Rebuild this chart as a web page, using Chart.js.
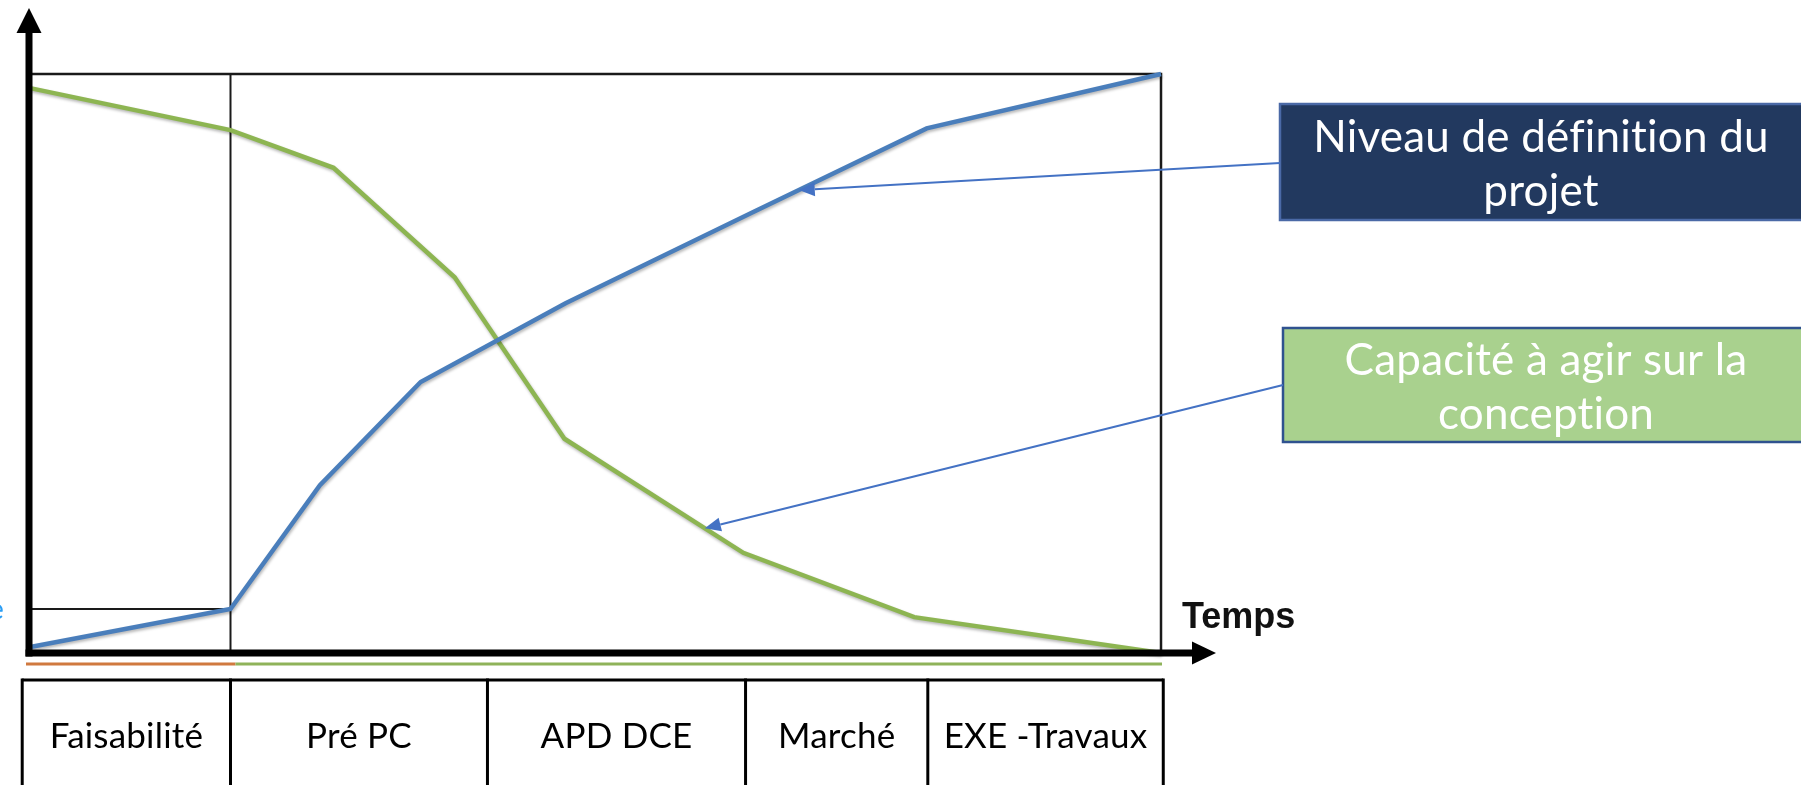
<!DOCTYPE html>
<html><head><meta charset="utf-8">
<script src="https://cdn.jsdelivr.net/npm/chart.js@4/dist/chart.umd.min.js"></script>
<style>html,body{margin:0;padding:0;background:#fff;overflow:hidden}canvas{display:block}</style>
</head><body>
<canvas id="c" width="1801" height="785"></canvas>
<script>
// ---- data (time 0..100 across the frame, level 0..100) ----
const niveauX = [0, 17.8, 25.7, 34.6, 47.4, 63.8, 79.3, 100];
const niveauY = [1, 7.6, 29.0, 46.8, 60.4, 76.0, 90.6, 100];
const capaciteX = [0, 17.8, 26.9, 37.6, 47.3, 63.1, 78.2, 100];
const capaciteY = [97.6, 90.3, 83.8, 64.9, 37.0, 17.3, 6.2, 0];
const phaseLabels = ['Faisabilité', 'Pré PC', 'APD DCE', 'Marché', 'EXE -Travaux'];
const phaseEdges = [-0.6, 17.8, 40.5, 63.3, 79.4, 100.2];
const seriesNames = ['Niveau de définition du projet', 'Capacité à agir sur la conception'];
const calloutLines = [['Niveau de définition du', 'projet'], ['Capacité à agir sur la', 'conception']];
const calloutTargetX = [68.0, 59.7];
const axisTitle = 'Temps';

const BLUE = '#4a7ebb', GREEN = '#8db552';

function interp(xs, ys, x) {
  for (let i = 0; i < xs.length - 1; i++) {
    if (x >= xs[i] && x <= xs[i + 1]) {
      const t = (x - xs[i]) / (xs[i + 1] - xs[i]);
      return ys[i] + t * (ys[i + 1] - ys[i]);
    }
  }
  return ys[ys.length - 1];
}

function arrow(ctx, x1, y1, x2, y2, color, lw, headLen, headW) {
  const a = Math.atan2(y2 - y1, x2 - x1);
  const bx = x2 - headLen * Math.cos(a), by = y2 - headLen * Math.sin(a);
  ctx.strokeStyle = color; ctx.fillStyle = color; ctx.lineWidth = lw;
  ctx.beginPath(); ctx.moveTo(x1, y1); ctx.lineTo(bx, by); ctx.stroke();
  ctx.beginPath();
  ctx.moveTo(x2, y2);
  ctx.lineTo(bx + headW * Math.sin(a), by - headW * Math.cos(a));
  ctx.lineTo(bx - headW * Math.sin(a), by + headW * Math.cos(a));
  ctx.closePath(); ctx.fill();
}

const deco = {
  id: 'deco',
  beforeDraw(chart) {
    const ctx = chart.ctx;
    ctx.save(); ctx.fillStyle = '#fff'; ctx.fillRect(0, 0, chart.width, chart.height); ctx.restore();
  },
  beforeDatasetsDraw(chart) {
    const {ctx, chartArea: ca, scales: {x, y}} = chart;
    ctx.save();
    ctx.strokeStyle = '#1a1a1a'; ctx.lineWidth = 2.5;
    ctx.beginPath();
    ctx.moveTo(ca.left, ca.top); ctx.lineTo(ca.right, ca.top); ctx.lineTo(ca.right, ca.bottom);
    ctx.stroke();
    ctx.lineWidth = 2;
    const px = x.getPixelForValue(phaseEdges[1]);
    ctx.beginPath(); ctx.moveTo(px, ca.top); ctx.lineTo(px, ca.bottom); ctx.stroke();
    const hy = y.getPixelForValue(interp(niveauX, niveauY, phaseEdges[1]));
    ctx.beginPath(); ctx.moveTo(ca.left, hy); ctx.lineTo(px, hy); ctx.stroke();
    ctx.restore();
  },
  beforeDatasetDraw(chart) {
    const ctx = chart.ctx;
    ctx.save();
    ctx.shadowColor = 'rgba(0,0,0,0.28)'; ctx.shadowBlur = 3; ctx.shadowOffsetX = 1; ctx.shadowOffsetY = 2;
  },
  afterDatasetDraw(chart) { chart.ctx.restore(); },
  afterDraw(chart) {
    const {ctx, chartArea: ca, scales: {x, y}} = chart;
    ctx.save();
    // coloured underline
    const px = x.getPixelForValue(phaseEdges[1]);
    ctx.lineWidth = 3;
    ctx.strokeStyle = '#d0793f';
    ctx.beginPath(); ctx.moveTo(ca.left - 3, ca.bottom + 11); ctx.lineTo(px + 5, ca.bottom + 11); ctx.stroke();
    ctx.strokeStyle = '#8fb35a';
    ctx.beginPath(); ctx.moveTo(px + 5, ca.bottom + 11); ctx.lineTo(ca.right + 1, ca.bottom + 11); ctx.stroke();
    // axes
    ctx.fillStyle = '#000'; ctx.strokeStyle = '#000';
    ctx.lineWidth = 7;
    ctx.beginPath(); ctx.moveTo(ca.left, ca.bottom + 3.5); ctx.lineTo(ca.left, 30); ctx.stroke();
    ctx.beginPath(); ctx.moveTo(ca.left - 3.5, ca.bottom); ctx.lineTo(1195, ca.bottom); ctx.stroke();
    ctx.beginPath(); ctx.moveTo(ca.left, 8); ctx.lineTo(ca.left - 12.5, 33); ctx.lineTo(ca.left + 12.5, 33); ctx.closePath(); ctx.fill();
    ctx.beginPath(); ctx.moveTo(1216, ca.bottom); ctx.lineTo(1192, ca.bottom - 11.5); ctx.lineTo(1192, ca.bottom + 11.5); ctx.closePath(); ctx.fill();
    // axis title
    ctx.font = 'bold 36px "Liberation Sans", Arial, sans-serif';
    ctx.textAlign = 'left'; ctx.textBaseline = 'alphabetic';
    ctx.fillStyle = '#111';
    ctx.fillText(axisTitle, 1182, 628);
    // partial glyph at the left edge
    ctx.font = '28px Lato, sans-serif';
    ctx.fillStyle = '#2a9df4';
    ctx.fillText('e', -11, 619);
    // phase table
    const tTop = 680;
    ctx.strokeStyle = '#000'; ctx.lineWidth = 3;
    const xl = x.getPixelForValue(phaseEdges[0]), xr = x.getPixelForValue(phaseEdges[phaseEdges.length - 1]);
    ctx.beginPath(); ctx.moveTo(xl, tTop); ctx.lineTo(xr, tTop); ctx.stroke();
    phaseEdges.forEach(e => {
      const ex = x.getPixelForValue(e);
      ctx.beginPath(); ctx.moveTo(ex, tTop - 1.5); ctx.lineTo(ex, 790); ctx.stroke();
    });
    ctx.letterSpacing = '0.2px';
    ctx.font = '35px Lato, sans-serif';
    ctx.fillStyle = '#000'; ctx.textAlign = 'center';
    phaseLabels.forEach((lab, i) => {
      const cx = (x.getPixelForValue(phaseEdges[i]) + x.getPixelForValue(phaseEdges[i + 1])) / 2;
      ctx.fillText(lab, cx, 748);
    });
    // callout boxes
    const boxes = [
      {x: 1280, y: 104, h: 116, fill: '#22395f', stroke: '#4a69a6', cx: 1541, base: [152, 206], ay: 163},
      {x: 1283, y: 328, h: 114, fill: '#a9d18e', stroke: '#2f528f', cx: 1546, base: [375, 429], ay: 385}
    ];
    const tgt = [
      [niveauX, niveauY], [capaciteX, capaciteY]
    ];
    boxes.forEach((b, i) => {
      ctx.fillStyle = b.fill; ctx.fillRect(b.x, b.y, 540, b.h);
      ctx.strokeStyle = b.stroke; ctx.lineWidth = 2.5; ctx.strokeRect(b.x, b.y, 540, b.h);
      ctx.fillStyle = '#fff'; ctx.font = '44px Lato, sans-serif'; ctx.textAlign = 'center';
      calloutLines[i].forEach((ln, k) => ctx.fillText(ln, b.cx, b.base[k]));
      const tx = x.getPixelForValue(calloutTargetX[i]);
      const ty = y.getPixelForValue(interp(tgt[i][0], tgt[i][1], calloutTargetX[i]));
      arrow(ctx, b.x, b.ay, tx, ty, '#4472c4', 2, 16, 7);
    });
    ctx.restore();
  }
};

new Chart(document.getElementById('c'), {
  type: 'line',
  data: {
    datasets: [
      {label: seriesNames[0], data: niveauX.map((v, i) => ({x: v, y: niveauY[i]})), borderColor: BLUE, borderWidth: 4.5, pointRadius: 0, tension: 0, clip: false},
      {label: seriesNames[1], data: capaciteX.map((v, i) => ({x: v, y: capaciteY[i]})), borderColor: GREEN, borderWidth: 4.5, pointRadius: 0, tension: 0, clip: false}
    ]
  },
  options: {
    responsive: false, animation: false, devicePixelRatio: 1,
    layout: {padding: {left: 29, right: 640, top: 74, bottom: 132}},
    plugins: {legend: {display: false}, tooltip: {enabled: false}},
    scales: {
      x: {type: 'linear', min: 0, max: 100, display: false},
      y: {min: 0, max: 100, display: false}
    }
  },
  plugins: [deco]
});
</script>
</body></html>
